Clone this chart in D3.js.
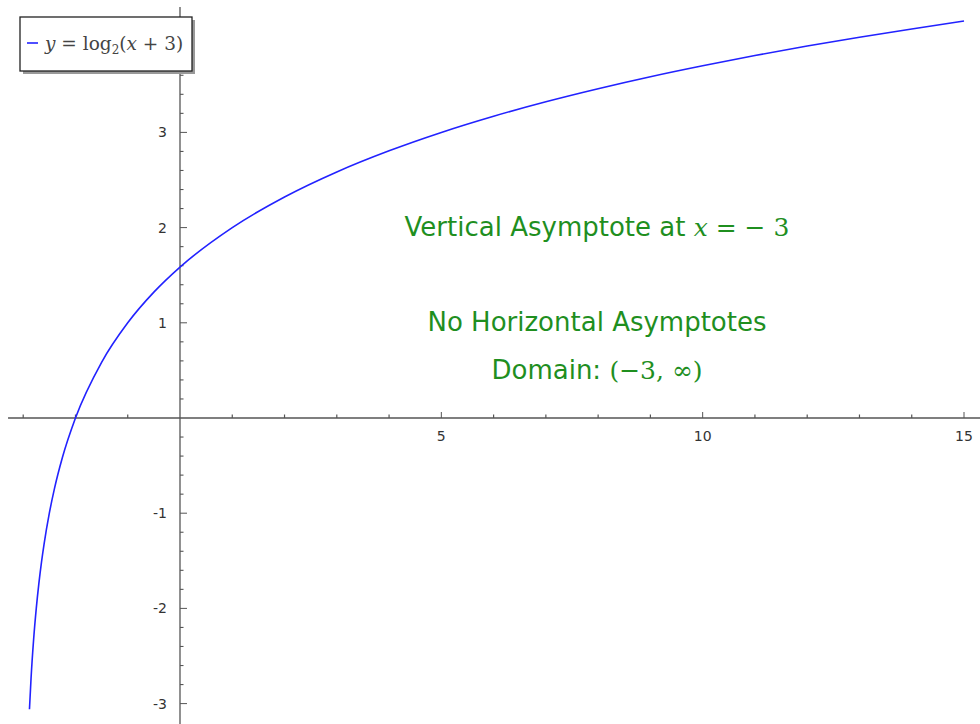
<!DOCTYPE html>
<html><head><meta charset="utf-8">
<script src="https://cdn.jsdelivr.net/npm/d3@7"></script>
<style>body{margin:0;background:#fff}</style>
</head><body>
<svg id="c" width="980" height="724"></svg>
<script>
// Curve points (y = log2(x+3))
const curveX = [-2.88,-2.85,-2.8,-2.75,-2.7,-2.65,-2.6,-2.5,-2.4,-2.25,-2,-1.5,-1,-0.5,0,1,2,3,4,5,6,7,8,9,10,11,12,13,14,15];
const curveY = [-3.06,-2.737,-2.322,-2,-1.737,-1.515,-1.322,-1,-0.737,-0.415,0,0.585,1,1.322,1.585,2,2.322,2.585,2.807,3,3.17,3.322,3.459,3.585,3.7,3.807,3.907,4,4.087,4.17];
const xMajorTicks = [5,10,15];
const xMinorTicks = [-3,-2,-1,1,2,3,4,6,7,8,9,11,12,13,14];
const yMajorTicks = [-3,-2,-1,1,2,3];
const yTickLabels = ["-3","-2","-1","1","2","3"];
const seriesLabel = "y = log2(x + 3)";

const svg = d3.select("#c");
const x = d3.scaleLinear().domain([0,15]).range([180,964]);
const y = d3.scaleLinear().domain([0,3]).range([418,132.4]);
const axisColor = "#555";

// axes lines
svg.append("line").attr("x1",x(-3.29)).attr("x2",980).attr("y1",y(0)).attr("y2",y(0))
  .attr("stroke",axisColor).attr("stroke-width",1.3);
svg.append("line").attr("x1",x(0)).attr("x2",x(0)).attr("y1",7).attr("y2",724)
  .attr("stroke",axisColor).attr("stroke-width",1.3);

// x ticks (upward)
svg.selectAll(".xmaj").data(xMajorTicks).enter().append("line")
  .attr("x1",d=>x(d)).attr("x2",d=>x(d)).attr("y1",y(0)).attr("y2",y(0)-6)
  .attr("stroke",axisColor).attr("stroke-width",1);
svg.selectAll(".xmin").data(xMinorTicks).enter().append("line")
  .attr("x1",d=>x(d)).attr("x2",d=>x(d)).attr("y1",y(0)).attr("y2",y(0)-3.5)
  .attr("stroke",axisColor).attr("stroke-width",1.2);
svg.selectAll(".xlab").data(xMajorTicks).enter().append("text")
  .attr("x",d=>x(d)).attr("y",y(0)+23).attr("text-anchor","middle")
  .attr("font-family","DejaVu Sans").attr("font-size",14).attr("fill","#333")
  .text(d=>d);

// y ticks (to the right)
const yMinor = d3.range(-16,22).map(i=>i*0.2).filter(v=>Math.abs(v-Math.round(v))>1e-6 && v>-3.2 && v<4.3);
svg.selectAll(".ymaj").data(yMajorTicks).enter().append("line")
  .attr("x1",x(0)).attr("x2",x(0)+7).attr("y1",d=>y(d)).attr("y2",d=>y(d))
  .attr("stroke",axisColor).attr("stroke-width",1);
svg.selectAll(".ymin").data(yMinor).enter().append("line")
  .attr("x1",x(0)).attr("x2",x(0)+3.5).attr("y1",d=>y(d)).attr("y2",d=>y(d))
  .attr("stroke",axisColor).attr("stroke-width",1.1);
svg.selectAll(".ylab").data(yMajorTicks).enter().append("text")
  .attr("x",x(0)-13).attr("y",d=>y(d)+5).attr("text-anchor","end")
  .attr("font-family","DejaVu Sans").attr("font-size",14).attr("fill","#333")
  .text((d,i)=>yTickLabels[i]);

// curve
const pts = curveX.map((v,i)=>[v,curveY[i]]);
svg.append("path").datum(pts)
  .attr("d",d3.line().x(d=>x(d[0])).y(d=>y(d[1])).curve(d3.curveMonotoneX))
  .attr("fill","none").attr("stroke","#2222ff").attr("stroke-width",1.6);

// annotations
const green = "#1f8f1f";
const serif = "DejaVu Serif";
function ann(cx, cy, parts){
  const t = svg.append("text").attr("x",cx).attr("y",cy).attr("text-anchor","middle")
    .attr("font-family","DejaVu Sans").attr("font-size",26).attr("fill",green);
  parts.forEach(p=>{
    const s = t.append("tspan").text(p.t);
    if(p.serif){ s.attr("font-family",serif).attr("font-size",25); }
    if(p.it){ s.attr("font-style","italic"); }
  });
}
ann(597,236,[{t:"Vertical Asymptote at "},{t:"x",serif:1,it:1},{t:" = − 3",serif:1}]);
ann(597,331,[{t:"No Horizontal Asymptotes"}]);
ann(597,379,[{t:"Domain: "},{t:"(−3, ∞)",serif:1}]);

// legend
svg.append("rect").attr("x",23).attr("y",20).attr("width",172).attr("height",54).attr("fill","#999");
svg.append("rect").attr("x",20).attr("y",17).attr("width",172).attr("height",54)
  .attr("fill","#fff").attr("stroke","#222").attr("stroke-width",1.3);
svg.append("line").attr("x1",27).attr("x2",38).attr("y1",43).attr("y2",43)
  .attr("stroke","#2222ff").attr("stroke-width",1.6);
const lt = svg.append("text").attr("x",45).attr("y",50).attr("font-family",serif)
  .attr("font-size",18.5).attr("fill","#444");
lt.append("tspan").attr("font-style","italic").text("y");
lt.append("tspan").text(" = log");
lt.append("tspan").attr("font-size",12).attr("dy",4).text("2");
lt.append("tspan").attr("dy",-4).text("(");
lt.append("tspan").attr("font-style","italic").text("x");
lt.append("tspan").text(" + 3)");
</script>
</body></html>
